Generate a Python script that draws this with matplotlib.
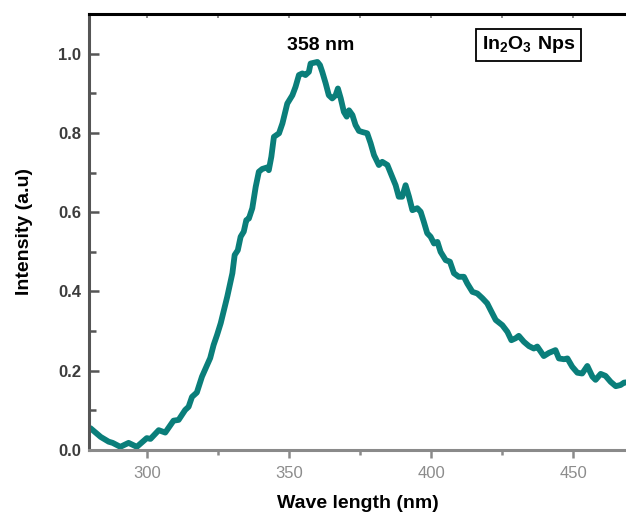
import matplotlib
matplotlib.use("Agg")
import matplotlib.pyplot as plt
from matplotlib.ticker import MultipleLocator

plt.rcParams['font.family'] = ['Liberation Sans', 'DejaVu Sans']
plt.rcParams['mathtext.fontset'] = 'custom'
plt.rcParams['mathtext.rm'] = 'Liberation Sans'
plt.rcParams['mathtext.bf'] = 'Liberation Sans:bold'

wavelength = [280.2, 283.8, 286.6, 288.0, 290.7, 293.6, 296.5, 300.0, 301.3, 304.2,
              306.5, 309.4, 311.2, 313.5, 314.7, 315.9, 317.6, 319.4, 322.3, 323.5,
              324.7, 326.0, 328.3, 330.1, 330.9, 332.0, 333.0, 334.1, 335.0, 335.9,
              337.1, 338.3, 339.4, 340.6, 342.4, 342.9, 343.8, 344.7, 346.5, 347.7,
              349.4, 351.2, 352.3, 353.5, 354.7, 355.8, 357.0, 357.6, 358.8, 360.0,
              360.9, 361.7, 362.9, 364.0, 365.2, 366.4, 367.2, 368.2, 369.3, 370.3,
              371.1, 372.3, 373.4, 374.6, 375.9, 377.5, 378.7, 379.9, 381.6, 382.8,
              384.6, 386.3, 387.5, 388.6, 389.8, 391.0, 392.2, 393.4, 395.1, 396.3,
              397.4, 398.6, 399.8, 401.0, 402.2, 403.3, 405.1, 406.6, 408.0, 409.7,
              411.5, 412.7, 414.5, 416.2, 418.0, 419.7, 420.9, 422.7, 425.0, 426.8,
              428.2, 429.7, 430.8, 432.6, 434.4, 436.1, 437.3, 439.6, 441.4, 443.7,
              444.9, 446.7, 447.9, 449.6, 451.4, 453.1, 454.9, 456.7, 457.8, 459.6,
              461.3, 463.1, 464.9, 466.6, 467.8, 469.1]
intensity = [0.055, 0.033, 0.021, 0.018, 0.008, 0.018, 0.008, 0.030, 0.028, 0.050,
             0.044, 0.074, 0.076, 0.101, 0.109, 0.134, 0.145, 0.185, 0.232, 0.265,
             0.290, 0.320, 0.387, 0.446, 0.492, 0.504, 0.538, 0.551, 0.580, 0.584,
             0.610, 0.664, 0.702, 0.709, 0.713, 0.706, 0.740, 0.790, 0.799, 0.824,
             0.874, 0.895, 0.916, 0.946, 0.950, 0.946, 0.954, 0.975, 0.977, 0.979,
             0.971, 0.954, 0.925, 0.895, 0.887, 0.895, 0.912, 0.887, 0.853, 0.841,
             0.857, 0.845, 0.820, 0.805, 0.802, 0.799, 0.774, 0.744, 0.719, 0.727,
             0.719, 0.689, 0.668, 0.639, 0.639, 0.668, 0.639, 0.605, 0.610, 0.601,
             0.576, 0.547, 0.538, 0.521, 0.525, 0.500, 0.479, 0.475, 0.446, 0.437,
             0.437, 0.420, 0.399, 0.395, 0.383, 0.370, 0.353, 0.328, 0.315, 0.298,
             0.277, 0.282, 0.288, 0.273, 0.262, 0.256, 0.261, 0.237, 0.245, 0.252,
             0.231, 0.229, 0.231, 0.210, 0.195, 0.193, 0.212, 0.185, 0.177, 0.192,
             0.187, 0.172, 0.161, 0.164, 0.170, 0.171]

peak_label = "358 nm"
sample_label = r"$\mathbf{In_2O_3\ Nps}$"
x_ticks = [300, 350, 400, 450]
y_ticks = [0.0, 0.2, 0.4, 0.6, 0.8, 1.0]

fig = plt.figure(figsize=(6.26, 5.14), dpi=100)
ax = fig.add_axes([0.1427, 0.1245, 0.8573, 0.8483])

ax.plot(wavelength, intensity, color='#0a7e7a', lw=4.2, solid_capstyle='round',
        solid_joinstyle='round')

ax.set_xlim(279.8, 468.5)
ax.set_ylim(0, 1.1)

ax.set_xticks(x_ticks)
ax.set_yticks(y_ticks)
ax.set_yticklabels([f"{v:.1f}" for v in y_ticks])
ax.xaxis.set_minor_locator(MultipleLocator(25))
ax.yaxis.set_minor_locator(MultipleLocator(0.1))

ax.spines['right'].set_visible(False)
ax.spines['top'].set_color('black')
ax.spines['top'].set_linewidth(2.2)
ax.spines['left'].set_color('#555555')
ax.spines['left'].set_linewidth(2.2)
ax.spines['bottom'].set_color('#8a8a8a')
ax.spines['bottom'].set_linewidth(2.2)

ax.tick_params(axis='y', which='major', direction='in', length=7, width=1.8,
               color='#555555', labelsize=12, labelcolor='#3c3c3c', pad=6)
ax.tick_params(axis='y', which='minor', direction='in', length=5, width=1.8,
               color='#555555')
ax.tick_params(axis='x', which='major', direction='out', length=5.5, width=1.8,
               color='#8a8a8a', labelsize=12, labelcolor='#8c8c8c', pad=6)
ax.tick_params(axis='x', which='minor', direction='out', length=3.5, width=1.8,
               color='#8a8a8a')
for lab in ax.get_yticklabels():
    lab.set_fontweight('bold')

top = ax.secondary_xaxis('top')
top.set_xticks(x_ticks)
top.xaxis.set_minor_locator(MultipleLocator(25))
top.tick_params(axis='x', which='both', direction='in', length=3, width=1.2,
                color='#777777', labeltop=False)
top.spines['top'].set_visible(False)

ax.set_xlabel("Wave length (nm)", fontsize=14, fontweight='bold', labelpad=10)
ax.set_ylabel("Intensity (a.u)", fontsize=14, fontweight='bold', labelpad=18)

ax.text(361.1, 1.02, peak_label, fontsize=14, fontweight='bold',
        ha='center', va='center')
ax.text(434.2, 1.022, sample_label, fontsize=14, ha='center', va='center',
        bbox=dict(boxstyle='square,pad=0.3', fc='white', ec='black', lw=1.3))

fig.savefig("out.png", dpi=100)
